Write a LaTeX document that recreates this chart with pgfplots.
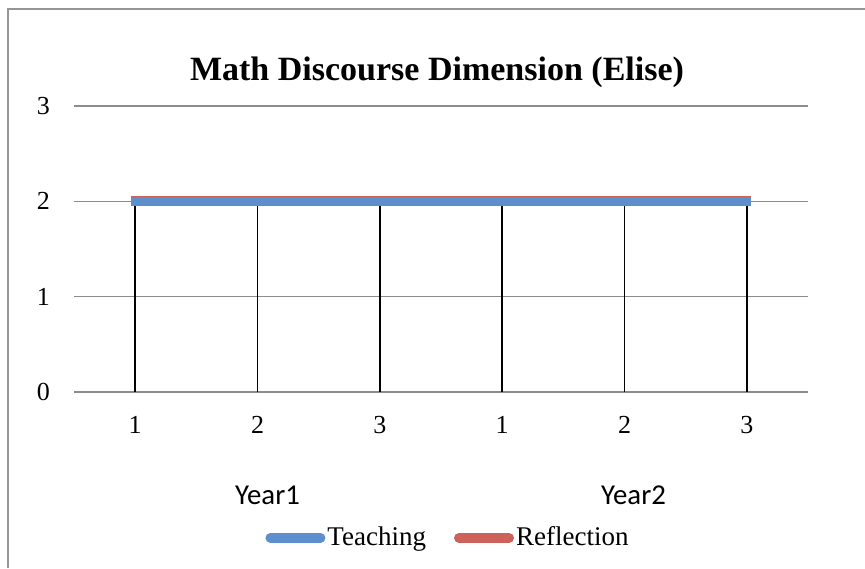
\documentclass[border=0pt]{standalone}
\usepackage{pgfplots}
\pgfplotsset{compat=1.18}
\usepackage{fontspec}
\setmainfont{Liberation Serif}
\newfontfamily\carlito{Carlito}

\definecolor{teachblue}{RGB}{93,143,204}
\definecolor{reflred}{RGB}{204,98,90}
\definecolor{gridgray}{RGB}{140,140,140}
\definecolor{framegray}{RGB}{150,150,150}

\begin{document}
\begin{tikzpicture}
% canvas: 865 x 568 px at 0.5pt per px
\path[use as bounding box] (0,0) rectangle (432.5pt,284pt);
\draw[framegray, line width=1.2pt] (4pt,0pt) -- (4pt,279.5pt) -- (432.5pt,279.5pt);

\begin{axis}[
  at={(37pt,88pt)}, anchor=south west,
  scale only axis,
  width=367pt, height=143pt,
  xmin=-0.5, xmax=5.5,
  ymin=0, ymax=3,
  xtick={0,1,2,3,4,5},
  xticklabels={1,2,3,1,2,3},
  ytick={0,1,2,3},
  ymajorgrids,
  grid style={gridgray, line width=0.7pt},
  axis line style={draw=none},
  tick style={draw=none},
  /pgf/number format/assume math mode=true,
  tick label style={font=\fontsize{13}{15}\selectfont},
  xticklabel style={yshift=-8.5pt},
  yticklabel style={xshift=-8.5pt},
  title={Math Discourse Dimension (Elise)},
  title style={at={(0.4946,1)}, anchor=base, yshift=7pt,
    font=\fontsize{17}{20}\selectfont\bfseries},
  clip=false,
  legend columns=2,
  legend style={at={(0.5095,-0.51)}, anchor=center, draw=none,
    font=\fontsize{13.5}{16}\selectfont,
    nodes={inner xsep=1pt},
    /tikz/every even column/.append style={column sep=13pt}},
]
% drop lines
\addplot[black, line width=0.8pt, ycomb, forget plot] coordinates {
  (0,2) (1,2) (2,2) (3,2) (4,2) (5,2)
};
\addplot[reflred, line width=4.5pt, line cap=rect, yshift=0.35pt, forget plot] coordinates {
  (0,2) (1,2) (2,2) (3,2) (4,2) (5,2)
};
\addplot[teachblue, line width=4.5pt, line cap=rect, forget plot] coordinates {
  (0,2) (1,2) (2,2) (3,2) (4,2) (5,2)
};

\addlegendimage{legend image code/.code={
  \draw[teachblue, line width=5pt, line cap=round] (2.5pt,0pt) -- (27.5pt,0pt);}}
\addlegendentry{Teaching}
\addlegendimage{legend image code/.code={
  \draw[reflred, line width=5pt, line cap=round] (2.5pt,0pt) -- (27.5pt,0pt);}}
\addlegendentry{Reflection}

\node[anchor=base, font=\carlito\fontsize{14.4}{17}\selectfont, xshift=5pt, yshift=-56pt]
  at (axis cs:1,0) {Year1};
\node[anchor=base, font=\carlito\fontsize{14.4}{17}\selectfont, xshift=4.5pt, yshift=-56pt]
  at (axis cs:4,0) {Year2};
\end{axis}
\end{tikzpicture}
\end{document}
